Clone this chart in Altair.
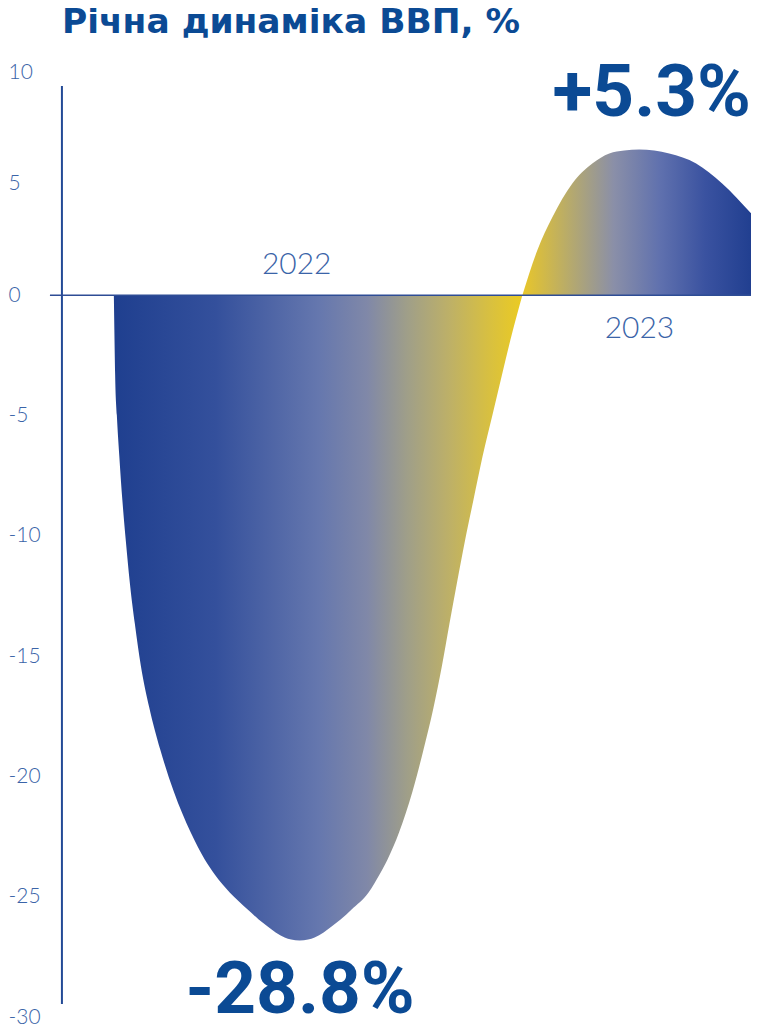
import altair as alt
import pandas as pd

# ---- data ----
title_text = "Річна динаміка ВВП, %"
y_ticks = [10, 5, 0, -5, -10, -15, -20, -25, -30]

# 2022 dip (month from Jan 2022, GDP %): falling side, trough, rising side
neg_month = [0.026, 0.041, 0.064, 0.114, 0.188, 0.276, 0.378, 0.496, 0.643,
             0.819, 1.068, 1.391, 1.787, 2.286, 2.697, 2.991, 3.431,
             3.959, 4.282, 4.546, 4.781, 5.045, 5.236, 5.486,
             5.735, 5.926, 6.190, 6.425, 6.689, 7.012, 7.511, 7.834, 8.069, 8.406,
             8.802, 9.125, 9.419, 9.668, 9.888, 10.108, 10.343, 10.593,
             10.857, 11.150, 11.429, 11.752, 12.031]
neg_value = [0.0, -1.452, -3.320, -4.979, -6.722, -8.506, -10.207, -11.950, -13.651,
             -15.394, -17.137, -18.880, -20.622, -22.324, -23.444, -24.066, -24.813,
             -25.519, -25.934, -26.224, -26.473, -26.680, -26.763, -26.805,
             -26.763, -26.680, -26.473, -26.224, -25.934, -25.519, -24.813, -24.066, -23.444, -22.324,
             -20.622, -18.880, -17.137, -15.394, -13.651, -11.950, -10.207, -8.506,
             -6.722, -4.979, -3.320, -1.452, 0.0]

# 2023 recovery (month, GDP %), cut at the right edge of the chart
pos_month = [12.031, 12.471, 12.912, 13.499, 14.086, 14.585, 15.025, 15.465,
             15.906, 16.346, 17.138, 17.902, 18.75]
pos_value = [0.0, 2.02, 3.50, 5.02, 5.92, 6.37, 6.50, 6.55,
             6.50, 6.37, 5.92, 5.02, 3.68]

year_labels = ["2022", "2023"]
year_month = [5.4, 15.47]
year_value = [0.94, -1.78]

peak_label = ["+5.3%"]
peak_month = [18.75]
peak_value = [8.07]

trough_label = ["-28.8%"]
trough_month = [5.5]
trough_value = [-29.8]

# ---- styling ----
DARK = "#0B4A94"
LIGHT = "#3A64A8"
W, H = 690, 946

x_scale = alt.Scale(domain=[-1.5, 18.75], nice=False, zero=False)
y_scale = alt.Scale(domain=[-30, 0, 10], range=[946, 223, 0], nice=False, zero=False)

neg_df = pd.DataFrame({"month": neg_month, "value": neg_value})
pos_df = pd.DataFrame({"month": pos_month, "value": pos_value})

neg_grad = alt.Gradient(
    gradient="linear", x1=0, x2=1, y1=0, y2=0,
    stops=[
        alt.GradientStop(color="#1F3F8F", offset=0.0),
        alt.GradientStop(color="#34509C", offset=0.25),
        alt.GradientStop(color="#6577AE", offset=0.5),
        alt.GradientStop(color="#8088A8", offset=0.62),
        alt.GradientStop(color="#A09F88", offset=0.72),
        alt.GradientStop(color="#BDB068", offset=0.82),
        alt.GradientStop(color="#D8C040", offset=0.92),
        alt.GradientStop(color="#EBCB22", offset=1.0),
    ],
)
pos_grad = alt.Gradient(
    gradient="linear", x1=0, x2=1, y1=0, y2=0,
    stops=[
        alt.GradientStop(color="#E8C62A", offset=0.0),
        alt.GradientStop(color="#B8AB6A", offset=0.2),
        alt.GradientStop(color="#8A8FA8", offset=0.4),
        alt.GradientStop(color="#6071AE", offset=0.6),
        alt.GradientStop(color="#3A52A0", offset=0.8),
        alt.GradientStop(color="#213F90", offset=1.0),
    ],
)

y_axis = alt.Axis(
    values=y_ticks, ticks=False, domain=False, grid=False, title=None,
    labelAlign="left", labelBaseline="middle", labelPadding=54, labelFlush=False,
    labelFont="Lato", labelFontWeight=300, labelFontSize=21, labelColor=LIGHT,
    labelExpr="datum.value + ''", labelOverlap=False,
)

neg_area = alt.Chart(neg_df).mark_area(
    fill=neg_grad, interpolate="monotone", orient="vertical", strokeWidth=0
).encode(
    x=alt.X("month:Q", scale=x_scale, axis=None),
    y=alt.Y("value:Q", scale=y_scale, axis=y_axis),
    y2=alt.datum(0),
)

pos_area = alt.Chart(pos_df).mark_area(
    fill=pos_grad, interpolate="monotone", orient="vertical", strokeWidth=0
).encode(
    x=alt.X("month:Q", scale=x_scale, axis=None),
    y=alt.Y("value:Q", scale=y_scale, axis=y_axis),
    y2=alt.datum(0),
)

axis_line = alt.Chart(pd.DataFrame({"a": [0]})).mark_rule(color="#234A96", strokeWidth=2).encode(
    x=alt.value(0),
    y=alt.datum(9.4, scale=y_scale, axis=y_axis),
    y2=alt.datum(-29.45),
)

zero_line = alt.Chart(pd.DataFrame({"a": [0]})).mark_rule(color="#2E4D95", strokeWidth=1.5).encode(
    x=alt.value(-12),
    x2=alt.value(W),
    y=alt.datum(0, scale=y_scale, axis=y_axis),
)

years = alt.Chart(pd.DataFrame({"month": year_month, "value": year_value, "t": year_labels})).mark_text(
    align="center", baseline="alphabetic", font="Lato", fontWeight=300, fontSize=30, color=LIGHT
).encode(
    x=alt.X("month:Q", scale=x_scale, axis=None),
    y=alt.Y("value:Q", scale=y_scale, axis=y_axis),
    text="t:N",
)

peak = alt.Chart(pd.DataFrame({"month": peak_month, "value": peak_value, "t": peak_label})).mark_text(
    align="right", baseline="alphabetic", font="Roboto", fontWeight="bold", fontSize=73, color=DARK
).encode(
    x=alt.X("month:Q", scale=x_scale, axis=None),
    y=alt.Y("value:Q", scale=y_scale, axis=y_axis),
    text="t:N",
)

trough = alt.Chart(pd.DataFrame({"month": trough_month, "value": trough_value, "t": trough_label})).mark_text(
    align="center", baseline="alphabetic", font="Roboto", fontWeight="bold", fontSize=73, color=DARK
).encode(
    x=alt.X("month:Q", scale=x_scale, axis=None),
    y=alt.Y("value:Q", scale=y_scale, axis=y_axis),
    text="t:N",
)

title = alt.Chart(pd.DataFrame({"t": [title_text]})).mark_text(
    align="left", baseline="alphabetic", font="DejaVu Sans", fontWeight="bold", fontSize=34.5, color=DARK
).encode(
    x=alt.value(0),
    y=alt.value(-40),
    text="t:N",
)

chart = alt.layer(
    neg_area, pos_area, axis_line, zero_line, years, peak, trough, title
).properties(
    width=W, height=H,
    background="white",
    autosize=alt.AutoSizeParams(type="none"),
    padding={"left": 54, "top": 64, "right": 0, "bottom": 12},
).configure_view(strokeWidth=0, stroke="transparent")

chart.save("out.html", embed_options={"renderer": "svg", "actions": False})
